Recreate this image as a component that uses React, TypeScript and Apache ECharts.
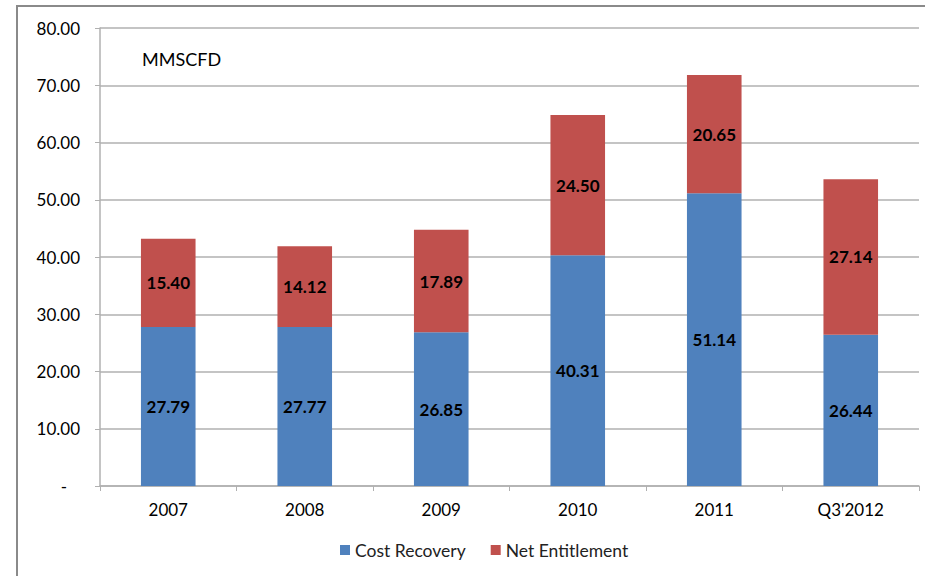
import React, { useEffect, useRef } from "react";
import * as echarts from "echarts";

const categories = ["2007", "2008", "2009", "2010", "2011", "Q3'2012"];
const costRecovery = [27.79, 27.77, 26.85, 40.31, 51.14, 26.44];
const netEntitlement = [15.4, 14.12, 17.89, 24.5, 20.65, 27.14];
const seriesNames = ["Cost Recovery", "Net Entitlement"];
const unitLabel = "MMSCFD";

const FONT = "Lato, 'Liberation Sans', sans-serif";

export default function App() {
  const ref = useRef<HTMLDivElement>(null);
  useEffect(() => {
    document.body.style.margin = "0";
    const chart = echarts.init(ref.current!, undefined, { renderer: "svg" });
    const labelStyle = {
      show: true,
      position: "inside",
      color: "#000",
      fontWeight: "bold",
      fontSize: 17,
      fontFamily: FONT,
      formatter: (p: any) => p.value.toFixed(2),
    };
    chart.setOption({
      animation: false,
      backgroundColor: "#fff",
      textStyle: { fontFamily: FONT },
      graphic: [
        {
          type: "rect",
          shape: { x: 17, y: 6, width: 1000, height: 700 },
          style: { fill: "none", stroke: "#8a8a8a", lineWidth: 2 },
          silent: true,
        },
        {
          type: "text",
          left: 142,
          top: 50,
          style: { text: unitLabel, fontSize: 18, fontFamily: FONT, fill: "#000" },
        },
      ],
      grid: { left: 100, top: 28, right: 6, bottom: 90 },
      legend: {
        bottom: 12,
        left: 335,
        icon: "rect",
        itemWidth: 10,
        itemHeight: 10,
        itemGap: 25,
        textStyle: { fontSize: 17.5, color: "#222", fontFamily: FONT },
        data: seriesNames,
      },
      xAxis: {
        type: "category",
        data: categories,
        axisLine: { lineStyle: { color: "#b0b0b0", width: 1.5 } },
        axisTick: { show: true, length: 5, lineStyle: { color: "#b0b0b0" } },
        axisLabel: { color: "#000", fontSize: 17, margin: 15, fontFamily: FONT },
      },
      yAxis: {
        type: "value",
        min: 0,
        max: 80,
        interval: 10,
        axisLine: { show: true, lineStyle: { color: "#b0b0b0", width: 1.5 } },
        axisTick: { show: true, length: 5, lineStyle: { color: "#b0b0b0" } },
        splitLine: { lineStyle: { color: "#b0b0b0", width: 1.5 } },
        axisLabel: {
          color: "#000",
          fontSize: 17,
          margin: 20,
          fontFamily: FONT,
          formatter: (v: number) => (v === 0 ? "{d|-}" : v.toFixed(2)),
          rich: { d: { padding: [0, 13, 0, 0], fontSize: 17, color: "#000" } },
        },
      },
      series: [
        {
          name: seriesNames[0],
          type: "bar",
          stack: "total",
          data: costRecovery,
          barWidth: "40%",
          itemStyle: { color: "#4F81BD" },
          label: labelStyle,
        },
        {
          name: seriesNames[1],
          type: "bar",
          stack: "total",
          data: netEntitlement,
          barWidth: "40%",
          itemStyle: { color: "#C0504D" },
          label: labelStyle,
        },
      ],
    });
    return () => chart.dispose();
  }, []);
  return <div ref={ref} style={{ width: 925, height: 576 }} />;
}
